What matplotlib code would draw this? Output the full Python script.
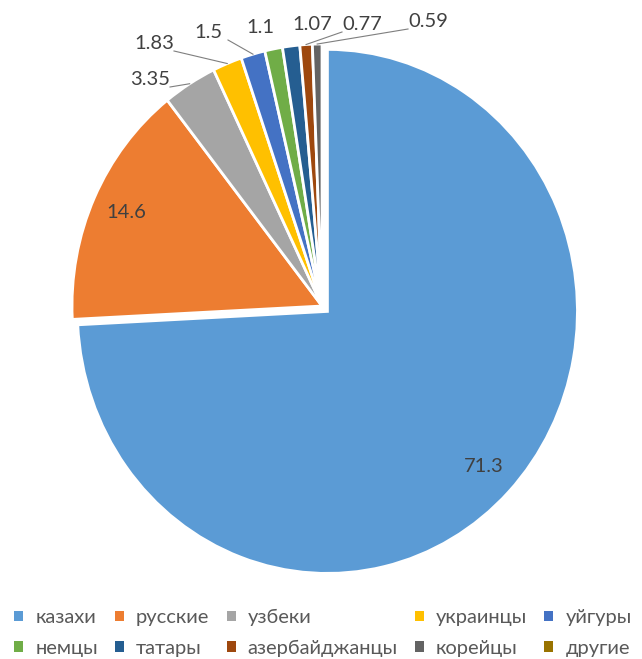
import matplotlib
matplotlib.use('Agg')
import matplotlib.pyplot as plt
from matplotlib.patches import Patch
import numpy as np

# population shares, %
names = ['казахи', 'русские', 'узбеки', 'украинцы', 'уйгуры',
         'немцы', 'татары', 'азербайджанцы', 'корейцы', 'другие']
values = [71.3, 14.6, 3.35, 1.83, 1.5, 1.1, 1.07, 0.77, 0.59]
labels = ['71.3', '14.6', '3.35', '1.83', '1.5', '1.1', '1.07', '0.77', '0.59']
colors = ['#5B9BD5', '#ED7D31', '#A5A5A5', '#FFC000', '#4472C4',
          '#70AD47', '#255E91', '#9E480E', '#636363', '#997300']

# where the outside labels sit (pixels), and whether they get a leader line
label_px = [None, None, (150, 79), (154, 43), (208, 32), (260, 27),
            (312, 24), (362, 24), (428, 21)]
leader = [False, False, True, True, True, False, False, True, True]

W, H = 642, 659
cx, cy, rx, ry = 322, 306, 250, 262   # pie centre and radii in pixels

def px2data(px, py):
    return (px - cx) / rx, (cy - py) / ry

plt.rcParams['font.family'] = ['Lato', 'DejaVu Sans']
fig = plt.figure(figsize=(W / 100, H / 100), dpi=100)
ax = fig.add_axes([(cx - 1.25 * rx) / W, (H - cy - 1.2 * ry) / H,
                   2.5 * rx / W, 2.4 * ry / H])

explode = [0.03] + [0] * (len(values) - 1)
wedges, _ = ax.pie(values, colors=colors[:len(values)], startangle=90,
                   counterclock=False, explode=explode, radius=1,
                   wedgeprops=dict(edgecolor='white', linewidth=2))
ax.set_aspect('auto')
ax.set_xlim(-1.25, 1.25)
ax.set_ylim(-1.2, 1.2)
ax.axis('off')

txt_col = '#404040'
for i, w in enumerate(wedges):
    mid = np.deg2rad((w.theta1 + w.theta2) / 2)
    ox, oy = w.center
    if label_px[i] is None:
        ax.text(ox + 0.86 * np.cos(mid), oy + 0.86 * np.sin(mid), labels[i],
                ha='center', va='center', fontsize=14.5, color=txt_col)
        continue
    lx, ly = px2data(*label_px[i])
    ax.text(lx, ly, labels[i], ha='center', va='center', fontsize=14.5,
            color=txt_col, clip_on=False)
    if leader[i]:
        tx, ty = ox + np.cos(mid), oy + np.sin(mid)
        side = 1 if tx > lx else -1
        sx, sy = px2data(label_px[i][0] + side * 20, label_px[i][1] + 8)
        ax.plot([sx, tx], [sy, ty], color='#7f7f7f', lw=0.8, clip_on=False)

# legend is filled row by row, matplotlib fills column by column
order = [0, 5, 1, 6, 2, 7, 3, 8, 4, 9]
handles = [Patch(facecolor=colors[k], edgecolor='none') for k in order]
leg = fig.legend(handles, [names[k] for k in order], ncol=5, loc='center left',
                 bbox_to_anchor=(14 / W, (H - 633) / H), frameon=False,
                 borderpad=0, borderaxespad=0, fontsize=14.5,
                 handlelength=0.45, handleheight=0.45, handletextpad=0.6,
                 columnspacing=0.85, labelspacing=0.68)
for t in leg.get_texts():
    t.set_color('#595959')

fig.savefig('out.png', dpi=100)
